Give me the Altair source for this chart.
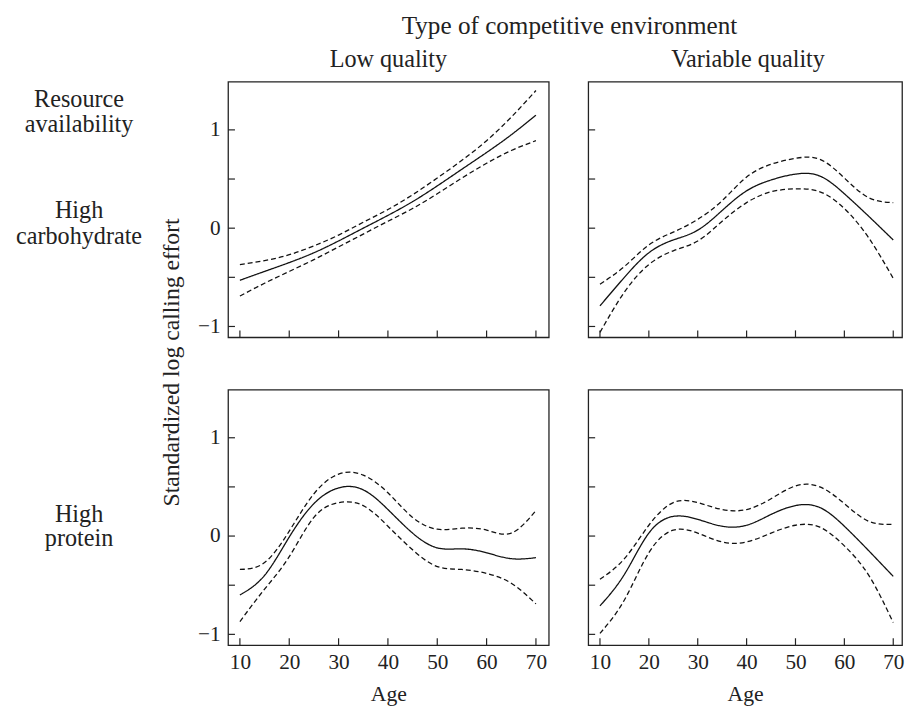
import altair as alt
import pandas as pd

# ---------------- data ----------------
ages = [10, 15, 20, 25, 30, 35, 40, 45, 50, 55, 60, 65, 70]

# Low quality / High carbohydrate
lc_fit = [-0.53, -0.44, -0.35, -0.25, -0.13, 0.00, 0.13, 0.27, 0.43, 0.60, 0.77, 0.95, 1.15]
lc_up = [-0.37, -0.33, -0.27, -0.18, -0.07, 0.06, 0.19, 0.34, 0.51, 0.69, 0.89, 1.13, 1.40]
lc_lo = [-0.69, -0.56, -0.44, -0.32, -0.19, -0.06, 0.07, 0.20, 0.35, 0.51, 0.66, 0.79, 0.89]

# Variable quality / High carbohydrate
vc_fit = [-0.79, -0.50, -0.25, -0.12, -0.02, 0.18, 0.38, 0.49, 0.55, 0.53, 0.35, 0.12, -0.12]
vc_up = [-0.57, -0.39, -0.17, -0.04, 0.09, 0.28, 0.52, 0.65, 0.71, 0.70, 0.51, 0.31, 0.26]
vc_lo = [-1.06, -0.65, -0.37, -0.23, -0.13, 0.07, 0.26, 0.37, 0.40, 0.37, 0.20, -0.10, -0.51]

# Low quality / High protein
lp_fit = [-0.60, -0.40, -0.01, 0.33, 0.49, 0.47, 0.27, 0.03, -0.12, -0.13, -0.17, -0.23, -0.22]
lp_up = [-0.34, -0.27, 0.05, 0.43, 0.63, 0.62, 0.44, 0.19, 0.07, 0.08, 0.06, 0.03, 0.26]
lp_lo = [-0.87, -0.54, -0.21, 0.19, 0.34, 0.31, 0.10, -0.14, -0.31, -0.34, -0.38, -0.48, -0.69]

# Variable quality / High protein
vp_fit = [-0.71, -0.39, 0.03, 0.20, 0.17, 0.10, 0.11, 0.22, 0.31, 0.29, 0.10, -0.15, -0.41]
vp_up = [-0.44, -0.23, 0.11, 0.34, 0.34, 0.27, 0.27, 0.38, 0.51, 0.50, 0.33, 0.15, 0.12]
vp_lo = [-0.99, -0.65, -0.17, 0.06, 0.03, -0.06, -0.06, 0.03, 0.11, 0.09, -0.10, -0.40, -0.88]

x_ticks = [10, 20, 30, 40, 50, 60, 70]
y_ticks = [-1, -0.5, 0, 0.5, 1]
y_labels = [-1, 0, 1]

col_title = "Type of competitive environment"
col_labels = ["Low quality", "Variable quality"]
row_title = "Resource\navailability"
row_labels = ["High\ncarbohydrate", "High\nprotein"]
y_title = "Standardized log calling effort"
x_title = "Age"
bands = ["fit", "upper", "lower"]

# ---------------- styling ----------------
FONT = "Liberation Serif"
INK = "#222222"
H = 259
WL, WR = 325, 318
XDOM_L = [7.6, 72.6]
XDOM_R = [7.6, 71.8]
YDOM = [-1.11, 1.49]
TICK = 7


def text_layer(label, x, y, size, line_height=25):
    return alt.Chart(pd.DataFrame({"label": [label]})).mark_text(
        lineBreak="\n", fontSize=size, font=FONT, color=INK, align="center",
        baseline="alphabetic", lineHeight=line_height
    ).encode(text="label:N", x=alt.value(x), y=alt.value(y))


def panel(fit, up, lo, width, xdom, bottom=False, left=False, ytitle=False, texts=()):
    df = pd.DataFrame({"age": ages, "fit": fit, "upper": up, "lower": lo})
    xs = alt.Scale(domain=xdom, nice=False, zero=False)
    ys = alt.Scale(domain=YDOM, nice=False, zero=False)

    if bottom:
        xaxis = alt.Axis(values=x_ticks, ticks=False, domain=False, grid=False,
                         title=x_title, labelPadding=24, labelBaseline="alphabetic",
                         labelFontSize=21.5, titleFontSize=22, titleY=56,
                         titleBaseline="alphabetic", titleFontWeight="normal")
    else:
        xaxis = None
    if left:
        yargs = dict(values=y_labels, ticks=False, domain=False, grid=False,
                     labelPadding=8, labelFontSize=21.5, labelBaseline="middle")
        if ytitle:
            yargs.update(title=y_title, titleX=-50, titleY=284, titleAngle=270,
                         titleAlign="center", titleBaseline="alphabetic",
                         titleFontSize=24, titleFontWeight="normal")
        else:
            yargs.update(title=None)
        yaxis = alt.Axis(**yargs)
    else:
        yaxis = None

    lines = alt.Chart(df).transform_fold(bands, as_=["band", "value"]).mark_line(
        color="#111111", strokeWidth=1.3, interpolate="natural"
    ).encode(
        x=alt.X("age:Q", scale=xs, axis=xaxis),
        y=alt.Y("value:Q", scale=ys, axis=yaxis),
        detail="band:N",
        strokeDash=alt.StrokeDash("band:N", legend=None,
                                  scale=alt.Scale(domain=bands, range=[[1, 0], [5, 3], [5, 3]])),
    )
    xt = alt.Chart(pd.DataFrame({"t": x_ticks})).mark_rule(color=INK, strokeWidth=1.2).encode(
        x=alt.X("t:Q", scale=xs, axis=xaxis), y=alt.value(H), y2=alt.value(H - TICK))
    yt = alt.Chart(pd.DataFrame({"t": y_ticks})).mark_rule(color=INK, strokeWidth=1.2).encode(
        y=alt.Y("t:Q", scale=ys, axis=yaxis), x=alt.value(0), x2=alt.value(TICK))

    layers = [lines, xt, yt] + list(texts)
    return alt.layer(*layers).properties(width=width, height=H)


A = panel(lc_fit, lc_up, lc_lo, WL, XDOM_L, left=True, ytitle=True, texts=[
    text_layer(col_title, 346, -48.7, 25.5),
    text_layer(col_labels[0], WL / 2, -14.7, 24.5),
    text_layer(row_title, -151, 26, 24.5, 25),
    text_layer(row_labels[0], -151, 138, 24.5, 26),
])
B = panel(vc_fit, vc_up, vc_lo, WR, XDOM_R, texts=[
    text_layer(col_labels[1], 162, -14.7, 24.5),
])
C = panel(lp_fit, lp_up, lp_lo, WL, XDOM_L, bottom=True, left=True, texts=[
    text_layer(row_labels[1], -151, 134, 24.5, 25),
])
D = panel(vp_fit, vp_up, vp_lo, WR, XDOM_R, bottom=True)

chart = alt.concat(
    A, B, C, D, columns=2, spacing={"row": 53, "column": 40}, bounds="flush",
).properties(
    padding={"left": 7, "top": 0, "right": 0, "bottom": 0},
    background="white",
).configure_view(
    stroke=INK, strokeWidth=1.3
).configure_axis(
    labelFont=FONT, titleFont=FONT, labelColor=INK, titleColor=INK
).configure_text(font=FONT)

chart.save("out.html", embed_options={"renderer": "svg", "actions": False})
